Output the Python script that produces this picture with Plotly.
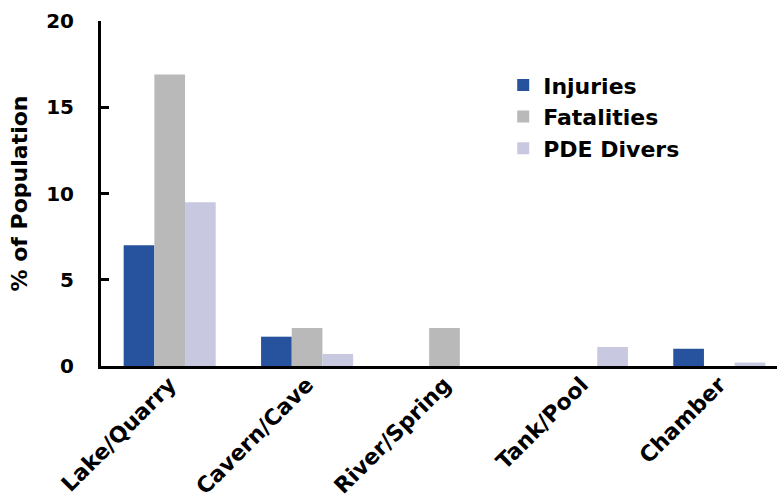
import plotly.graph_objects as go

categories = ["Lake/Quarry", "Cavern/Cave", "River/Spring", "Tank/Pool", "Chamber"]
injuries = [7.0, 1.7, 0.0, 0.0, 1.0]
fatalities = [16.9, 2.2, 2.2, 0.0, 0.0]
pde_divers = [9.5, 0.7, 0.0, 1.1, 0.2]
y_ticks = [0, 5, 10, 15, 20]

FONT = "DejaVu Sans"

fig = go.Figure()
fig.add_trace(go.Bar(name="<b>Injuries</b>", x=categories, y=injuries,
                     marker=dict(color="#26529e", line=dict(width=0))))
fig.add_trace(go.Bar(name="<b>Fatalities</b>", x=categories, y=fatalities,
                     marker=dict(color="#b9b9b9", line=dict(width=0))))
fig.add_trace(go.Bar(name="<b>PDE Divers</b>", x=categories, y=pde_divers,
                     marker=dict(color="#c8c9e1", line=dict(width=0))))

fig.update_layout(
    width=777, height=502,
    margin=dict(l=101, r=0, t=21, b=136),
    paper_bgcolor="white", plot_bgcolor="white",
    barmode="group", bargap=0.33, bargroupgap=0,
    font=dict(family=FONT, color="black"),
    legend=dict(x=0.595, y=0.875, xanchor="left", yanchor="top",
                font=dict(size=22, family=FONT, color="black"),
                bgcolor="rgba(0,0,0,0)", tracegroupgap=0),
    xaxis=dict(range=[-0.5, 4.42], showline=True, linecolor="black", linewidth=3,
               ticks="", showgrid=False, tickangle=-45, automargin=False,
               ticklabelstandoff=-6,
               tickfont=dict(size=22, family=FONT, color="black"),
               ticktext=["<b>%s</b>" % c for c in categories], tickvals=categories),
    yaxis=dict(range=[0, 20], tickvals=y_ticks, ticktext=["<b>%d</b>" % v for v in y_ticks],
               showline=True, linecolor="black", linewidth=3, automargin=False,
               ticks="inside", ticklen=8, tickwidth=3, tickcolor="black",
               showgrid=False, zeroline=False, ticklabelstandoff=20,
               tickfont=dict(size=20, family=FONT, color="black"),
               title=dict(text="<b>% of Population</b>", standoff=13,
                          font=dict(size=22, family=FONT, color="black"))),
)

fig.write_html("out.html", config={"displayModeBar": False},
               post_script="document.body.style.margin='0px';document.body.style.overflow='hidden';")
